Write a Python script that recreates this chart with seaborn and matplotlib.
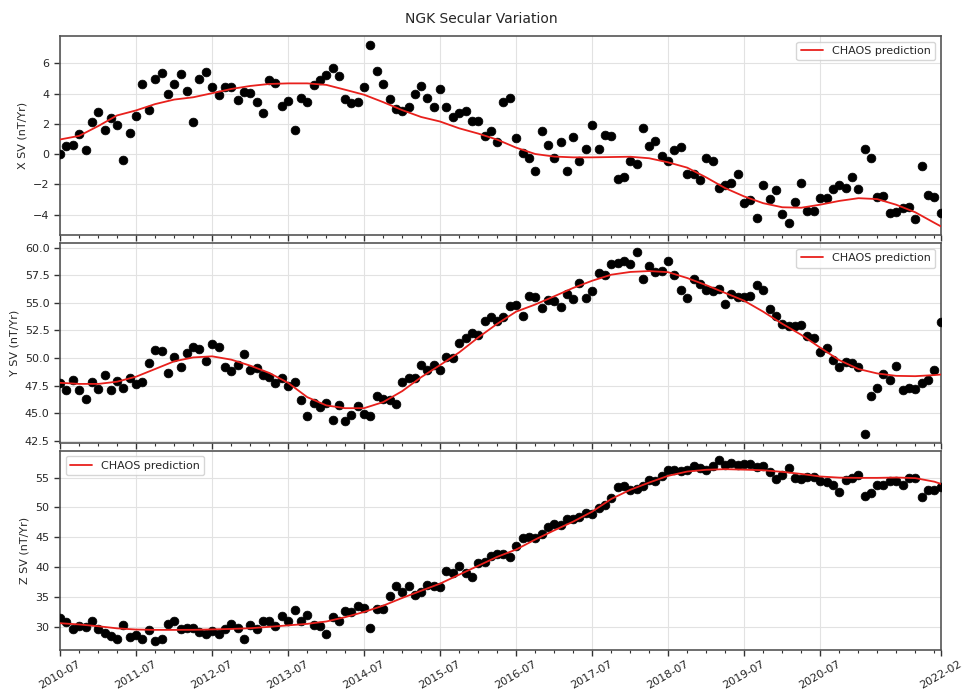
import numpy as np
import pandas as pd
import seaborn as sns
import matplotlib
matplotlib.use("Agg")
import matplotlib.pyplot as plt
import matplotlib.dates as mdates

# monthly observatory SV estimates, 2010-07 .. 2022-02
dates = pd.date_range("2010-07-01", "2022-02-01", freq="MS")

x_sv = [0.0, 0.53, 0.6, 1.31, 0.27, 2.1, 2.76, 1.58, 2.4, 1.91,
        -0.42, 1.4, 2.49, 4.62, 2.89, 4.96, 5.33, 4.0, 4.6, 5.27,
        4.18, 2.11, 4.93, 5.42, 4.42, 3.89, 4.42, 4.4, 3.6, 4.13,
        4.04, 3.47, 2.73, 4.87, 4.71, 3.2, 3.49, 1.56, 3.73, 3.42,
        4.56, 4.89, 5.2, 5.71, 5.16, 3.62, 3.4, 3.44, 4.4, 7.2,
        5.51, 4.62, 3.62, 2.98, 2.82, 3.13, 3.96, 4.49, 3.69, 3.11,
        4.29, 3.11, 2.47, 2.71, 2.87, 2.2, 2.16, 1.16, 1.51, 0.82,
        3.47, 3.67, 1.04, 0.07, -0.27, -1.09, 1.53, 0.62, -0.27, 0.82,
        -1.09, 1.13, -0.44, 0.36, 1.89, 0.33, 1.27, 1.2, -1.67, -1.51,
        -0.47, -0.69, 1.69, 0.53, 0.87, -0.11, -0.44, 0.29, 0.44, -1.33,
        -1.29, -1.73, -0.27, -0.49, -2.27, -2.04, -1.91, -1.31, -3.24, -3.02,
        -4.2, -2.02, -3.0, -2.4, -3.96, -4.56, -3.16, -1.91, -3.8, -3.8,
        -2.93, -2.93, -2.33, -2.07, -2.22, -1.51, -2.29, 0.31, -0.27, -2.82,
        -2.8, -3.89, -3.84, -3.6, -3.47, -4.27, -0.82, -2.73, -2.82, -3.89]

y_sv = [47.69, 47.06, 47.97, 47.06, 46.27, 47.82, 47.15, 48.42, 47.09, 47.88,
        47.24, 48.18, 47.66, 47.78, 49.52, 50.7, 50.64, 48.64, 50.12, 49.15,
        50.46, 51.04, 50.85, 49.73, 51.31, 51.04, 49.15, 48.79, 49.33, 50.37,
        48.94, 49.12, 48.48, 48.24, 47.69, 48.15, 47.42, 47.82, 46.2, 44.72,
        45.96, 45.54, 45.9, 44.41, 45.78, 44.29, 44.84, 45.69, 44.9, 44.72,
        46.51, 46.24, 46.17, 45.81, 47.85, 48.18, 48.18, 49.4, 48.88, 49.4,
        48.91, 50.12, 49.97, 51.34, 51.8, 52.28, 52.1, 53.38, 53.74, 53.38,
        53.68, 54.68, 54.83, 53.83, 55.65, 55.53, 54.53, 55.26, 55.2, 54.59,
        55.81, 55.32, 56.81, 55.44, 56.05, 57.69, 57.48, 58.54, 58.6, 58.81,
        58.54, 59.57, 57.17, 58.33, 57.81, 57.93, 58.78, 57.51, 56.17, 55.41,
        57.2, 56.69, 56.2, 56.11, 56.26, 54.93, 55.78, 55.5, 55.5, 55.65,
        56.63, 56.14, 54.44, 53.83, 53.07, 52.86, 52.92, 53.01, 51.95, 51.8,
        50.55, 50.88, 49.82, 49.18, 49.67, 49.52, 49.18, 43.14, 46.54, 47.27,
        48.57, 48.0, 49.3, 47.09, 47.24, 47.21, 47.75, 47.97, 48.91, 53.28]

z_sv = [31.46, 30.79, 29.61, 30.11, 29.89, 30.96, 29.61, 28.88, 28.43, 27.87,
        30.22, 28.2, 28.54, 27.92, 29.44, 27.58, 27.92, 30.45, 30.96, 29.66,
        29.78, 29.83, 29.04, 28.82, 29.27, 28.82, 29.61, 30.45, 29.83, 27.98,
        30.28, 29.55, 31.01, 30.9, 30.17, 31.8, 31.01, 32.7, 31.01, 32.02,
        30.28, 30.06, 28.76, 31.63, 31.01, 32.58, 32.36, 33.43, 33.09, 29.83,
        32.87, 32.87, 35.11, 36.85, 35.73, 36.74, 35.34, 35.79, 37.02, 36.85,
        36.63, 39.38, 38.93, 40.22, 38.93, 38.26, 40.67, 40.9, 41.91, 42.25,
        42.25, 41.69, 43.54, 44.78, 45.06, 44.89, 45.51, 46.74, 47.13, 47.02,
        47.98, 47.98, 48.43, 48.99, 48.88, 49.94, 50.34, 51.63, 53.43, 53.6,
        52.87, 53.03, 53.65, 54.66, 54.38, 55.28, 56.29, 56.29, 56.07, 56.29,
        56.91, 56.57, 56.18, 56.85, 57.98, 57.13, 57.42, 57.02, 57.3, 57.3,
        56.74, 56.85, 55.9, 54.72, 55.45, 56.57, 54.94, 54.72, 55.06, 55.11,
        54.44, 54.21, 53.82, 52.58, 54.55, 54.89, 55.34, 51.91, 52.47, 53.76,
        53.71, 54.44, 54.49, 53.76, 54.94, 54.94, 51.69, 52.87, 52.87, 53.37]

# CHAOS model prediction, read every 3 months (+ last month)
chaos_idx = list(range(0, 139, 3)) + [139]
chaos_dates = dates[chaos_idx]

chaos_x = [0.96, 1.2, 1.85, 2.55, 2.88, 3.3, 3.6, 3.75, 4.02, 4.3,
           4.5, 4.63, 4.67, 4.67, 4.57, 4.25, 3.92, 3.43, 2.9, 2.45,
           2.15, 1.7, 1.35, 0.95, 0.42, 0.0, -0.17, -0.22, -0.22, -0.2,
           -0.18, -0.28, -0.55, -0.9, -1.55, -2.25, -2.8, -3.25, -3.52, -3.55,
           -3.35, -3.1, -2.92, -2.98, -3.35, -3.85, -4.55, -4.78]

chaos_y = [47.75, 47.65, 47.65, 47.85, 48.3, 49.0, 49.7, 50.05, 50.15, 49.85,
           49.3, 48.65, 47.75, 46.45, 45.7, 45.45, 45.45, 46.0, 47.0, 48.25,
           49.35, 50.5, 51.86, 53.1, 54.2, 54.85, 55.6, 56.35, 57.0, 57.55,
           57.8, 57.88, 57.78, 57.25, 56.6, 55.9, 55.2, 54.2, 53.1, 52.1,
           50.94, 49.8, 49.0, 48.6, 48.38, 48.35, 48.45, 48.5]

chaos_z = [30.56, 30.35, 30.05, 29.7, 29.5, 29.44, 29.44, 29.45, 29.52, 29.6,
           29.72, 29.95, 30.2, 30.45, 30.85, 31.57, 32.45, 33.5, 34.8, 36.0,
           37.19, 38.7, 40.2, 41.69, 42.92, 44.6, 46.15, 47.6, 49.27, 51.4,
           52.95, 54.15, 55.28, 56.0, 56.3, 56.4, 56.32, 56.22, 55.95, 55.6,
           55.17, 54.98, 54.94, 54.94, 55.0, 54.9, 54.3, 53.93]

tick_labels = ["2010-07", "2011-07", "2012-07", "2013-07", "2014-07", "2015-07",
               "2016-07", "2017-07", "2018-07", "2019-07", "2020-07", "2022-02"]

panels = [("X SV (nT/Yr)", x_sv, chaos_x, "upper right"),
          ("Y SV (nT/Yr)", y_sv, chaos_y, "upper right"),
          ("Z SV (nT/Yr)", z_sv, chaos_z, "upper left")]

sns.set_style("ticks")
plt.rcParams['font.family'] = ['DejaVu Sans']

fig, axes = plt.subplots(3, 1, figsize=(9.63, 6.93), dpi=100, sharex=True)
fig.subplots_adjust(left=0.0623, right=0.977, top=0.948, bottom=0.062, hspace=0.04)

for ax, (ylab, obs, model, loc) in zip(axes, panels):
    sns.scatterplot(x=dates, y=obs, color="black", edgecolor="black",
                    s=40, linewidth=0.5, ax=ax, zorder=3)
    sns.lineplot(x=chaos_dates, y=model, color="#e8201c", linewidth=1.3,
                 label="CHAOS prediction", ax=ax, zorder=4)
    ax.set_xlabel("")
    ax.set_ylabel(ylab, fontsize=8)
    ax.grid(True, color="#e2e2e2", linewidth=0.8)
    ax.set_axisbelow(True)
    ax.tick_params(axis="both", labelsize=8, length=4, width=1, color="#333333")
    ax.tick_params(axis="x", pad=2.5)
    ax.tick_params(axis="x", which="minor", length=2.5, width=0.8, color="#333333")
    for sp in ax.spines.values():
        sp.set_color("#555555")
        sp.set_linewidth(1.2)
    ax.legend(loc=loc, fontsize=8, frameon=True, fancybox=True,
              framealpha=0.8, edgecolor="#cccccc")

axes[0].set_yticks([-4, -2, 0, 2, 4, 6])
axes[1].set_yticks([42.5, 45.0, 47.5, 50.0, 52.5, 55.0, 57.5, 60.0])
axes[1].yaxis.set_major_formatter(matplotlib.ticker.FormatStrFormatter("%.1f"))
axes[2].set_yticks([30, 35, 40, 45, 50, 55])

tick_dates = pd.to_datetime(tick_labels, format="%Y-%m")
ax = axes[2]
ax.set_xlim(dates[0], dates[-1])
ax.set_xticks(tick_dates)
ax.set_xticklabels(tick_labels, rotation=30, ha="center", fontsize=8)
ax.xaxis.set_minor_locator(mdates.MonthLocator(bymonth=[1, 4, 7, 10]))

fig.suptitle("NGK Secular Variation", fontsize=10, y=0.983)

fig.savefig("out.png", dpi=100)
